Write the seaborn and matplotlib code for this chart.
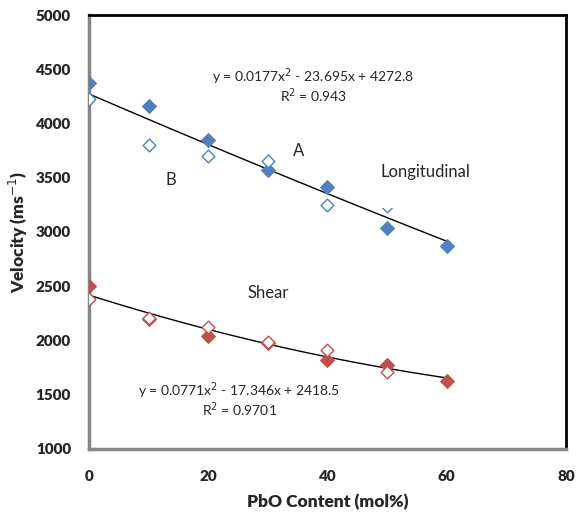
import numpy as np
import pandas as pd
import matplotlib.pyplot as plt
import seaborn as sns

# PbO content (mol%)
pbo = [0, 10, 20, 30, 40, 50, 60]

# longitudinal velocity: filled (A) and open (B) markers
long_a = [4370, 4165, 3845, 3575, 3415, 3035, 2870]
long_b_x = [0, 10, 20, 30, 40, 50]
long_b = [4225, 3800, 3700, 3650, 3250, 3240]

# shear velocity: filled (A) and open (B) markers
shear_a = [2500, 2195, 2045, 1975, 1820, 1775, 1625]
shear_b_x = [0, 10, 20, 30, 40, 50]
shear_b = [2385, 2210, 2125, 1990, 1910, 1705]

# quadratic trend lines shown on the chart
long_fit = [0.0177, -23.695, 4272.8]
shear_fit = [0.0771, -17.346, 2418.5]

BLUE = "#4F81BD"
RED = "#C0504D"

sns.set_theme(style="white")
plt.rcParams["font.family"] = ["Lato", "DejaVu Sans"]

fig = plt.figure(figsize=(5.76, 5.14), dpi=100)
ax = fig.add_axes([0.1545, 0.1265, 0.8281, 0.8443])

xs = np.linspace(0, 60, 100)
fits = pd.DataFrame({
    "x": np.concatenate([xs, xs]),
    "y": np.concatenate([np.polyval(long_fit, xs), np.polyval(shear_fit, xs)]),
    "series": ["long"] * len(xs) + ["shear"] * len(xs),
})
sns.lineplot(data=fits, x="x", y="y", units="series", estimator=None,
             color="black", linewidth=1, ax=ax, zorder=2)

for xv, yv, col in [(pbo, long_a, BLUE), (pbo, shear_a, RED)]:
    sns.scatterplot(x=xv, y=yv, marker="D", s=50, color=col,
                    edgecolor=col, linewidth=0.8, ax=ax, zorder=3)
for xv, yv, col in [(long_b_x, long_b, BLUE), (shear_b_x, shear_b, RED)]:
    sns.scatterplot(x=xv, y=yv, marker="D", s=42, facecolor="white",
                    edgecolor=col, linewidth=1.0, ax=ax, zorder=3)

ax.set_xlim(0, 80)
ax.set_ylim(1000, 5000)
ax.set_xticks([0, 20, 40, 60, 80])
ax.set_yticks(range(1000, 5001, 500))
ax.tick_params(direction="in", length=4, width=1.5, color="#868686",
               labelsize=11)
ax.tick_params(axis="x", pad=15)
ax.tick_params(axis="y", pad=13)
for lab in ax.get_xticklabels() + ax.get_yticklabels():
    lab.set_fontweight("heavy")

ax.set_xlabel("PbO Content (mol%)", fontsize=12.5, fontweight="heavy", labelpad=8)
ax.set_ylabel("Velocity (ms$^{-1}$)", fontsize=12.5, fontweight="heavy", labelpad=4)

for side in ["left", "bottom"]:
    ax.spines[side].set_color("#868686")
    ax.spines[side].set_linewidth(2.5)
for side in ["top", "right"]:
    ax.spines[side].set_color("black")
    ax.spines[side].set_linewidth(2)

ax.text(37.6, 4350, "y = 0.0177x$^{2}$ - 23.695x + 4272.8\nR$^{2}$ = 0.943",
        ha="center", va="center", multialignment="center", fontsize=10,
        linespacing=0.95)
ax.text(25.2, 1456, "y = 0.0771x$^{2}$ - 17.346x + 2418.5\nR$^{2}$ = 0.9701",
        ha="center", va="center", multialignment="center", fontsize=10,
        linespacing=0.95)
ax.text(35.2, 3747, "A", ha="center", va="center", fontsize=12)
ax.text(13.8, 3479, "B", ha="center", va="center", fontsize=12)
# the label's white box hides the top of the open marker at 50 mol%
box = dict(boxstyle="square,pad=0.3", facecolor="white", edgecolor="none")
ax.text(56.5, 3340, "Longitudinal", ha="center", va="center", fontsize=12,
        color="white", zorder=4, bbox=box)
ax.text(56.5, 3553, "Longitudinal", ha="center", va="center", fontsize=12,
        zorder=5, bbox=box)
ax.text(30.0, 2438, "Shear", ha="center", va="center", fontsize=12)

fig.savefig("out.png", dpi=100)
